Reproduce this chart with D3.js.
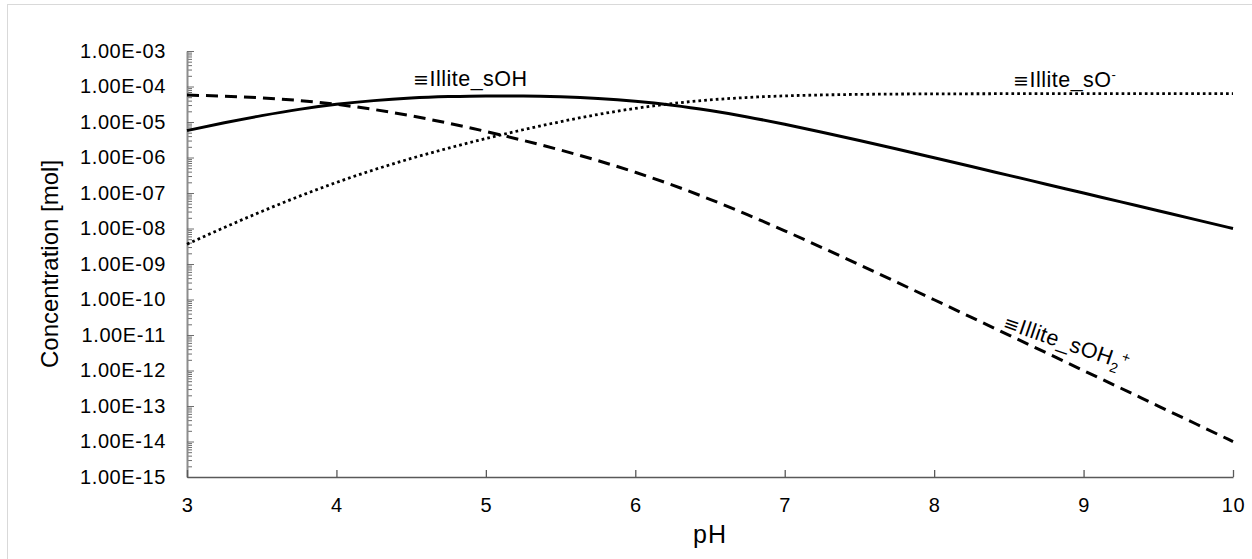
<!DOCTYPE html>
<html>
<head>
<meta charset="utf-8">
<script src="https://cdn.jsdelivr.net/npm/d3@7/dist/d3.min.js"></script>
<style>
  html, body { margin: 0; padding: 0; background: #fff; }
  svg { display: block; font-family: "Liberation Sans", Arial, Helvetica, sans-serif; }
</style>
</head>
<body>
<svg id="chart" width="1252" height="559"></svg>
<script>
// pH grid shared by all three surface species
const pH = [3.00, 3.25, 3.50, 3.75, 4.00, 4.25, 4.50, 4.75, 5.00, 5.25, 5.50, 5.75, 6.00, 6.25, 6.50,
            6.75, 7.00, 7.25, 7.50, 7.75, 8.00, 8.25, 8.50, 8.75, 9.00, 9.25, 9.50, 9.75, 10.00];

// ≡Illite_sOH (neutral site), mol
const sOH = [5.73e-6, 9.51e-6, 1.51e-5, 2.27e-5, 3.14e-5, 4.00e-5, 4.72e-5, 5.19e-5, 5.42e-5, 5.39e-5,
             5.12e-5, 4.59e-5, 3.84e-5, 2.96e-5, 2.10e-5, 1.39e-5, 8.62e-6, 5.16e-6, 3.01e-6, 1.73e-6,
             9.83e-7, 5.57e-7, 3.14e-7, 1.77e-7, 9.97e-8, 5.61e-8, 3.16e-8, 1.78e-8, 9.98e-9];

// ≡Illite_sOH2+ (protonated site), mol
const sOH2 = [5.73e-5, 5.35e-5, 4.78e-5, 4.03e-5, 3.14e-5, 2.25e-5, 1.49e-5, 9.23e-6, 5.42e-6, 3.03e-6,
              1.62e-6, 8.16e-7, 3.84e-7, 1.67e-7, 6.64e-8, 2.46e-8, 8.62e-9, 2.90e-9, 9.51e-10, 3.07e-10,
              9.83e-11, 3.13e-11, 9.94e-12, 3.15e-12, 9.97e-13, 3.16e-13, 9.98e-14, 3.16e-14, 9.98e-15];

// ≡Illite_sO- (deprotonated site), mol
const sO = [3.61e-9, 1.07e-8, 3.02e-8, 8.04e-8, 1.98e-7, 4.49e-7, 9.41e-7, 1.84e-6, 3.42e-6, 6.05e-6,
            1.02e-5, 1.63e-5, 2.42e-5, 3.32e-5, 4.19e-5, 4.91e-5, 5.44e-5, 5.78e-5, 6.00e-5, 6.13e-5,
            6.20e-5, 6.24e-5, 6.27e-5, 6.28e-5, 6.29e-5, 6.29e-5, 6.30e-5, 6.30e-5, 6.30e-5];

// axis ticks
const xTicks = [3, 4, 5, 6, 7, 8, 9, 10];
const yMajor = [1e-15, 1e-14, 1e-13, 1e-12, 1e-11, 1e-10, 1e-9, 1e-8, 1e-7, 1e-6, 1e-5, 1e-4, 1e-3];
const yTickLabels = ["1.00E-15", "1.00E-14", "1.00E-13", "1.00E-12", "1.00E-11", "1.00E-10", "1.00E-09",
                     "1.00E-08", "1.00E-07", "1.00E-06", "1.00E-05", "1.00E-04", "1.00E-03"];

const svg = d3.select("#chart");

// light outer frame
svg.append("rect")
  .attr("x", 7.5).attr("y", 4.5).attr("width", 1400).attr("height", 700)
  .attr("fill", "none").attr("stroke", "#d9d9d9").attr("stroke-width", 1);

const x = d3.scaleLinear().domain([3, 10]).range([187, 1233]);
const y = d3.scaleLog().domain([1e-15, 1e-3]).range([477, 51]);

// minor log ticks, pointing into the plot
const yMinor = [];
for (let e = -15; e < -3; e++) {
  for (let k = 2; k <= 9; k++) yMinor.push(k * Math.pow(10, e));
}

const gMinor = svg.append("g").attr("transform", `translate(${x(3)},0)`)
  .call(d3.axisLeft(y).tickValues(yMinor).tickSizeInner(-5).tickSizeOuter(0).tickFormat(""));
gMinor.select(".domain").remove();
gMinor.selectAll("line").attr("stroke", "#6e6e6e").attr("stroke-width", 1);

const gy = svg.append("g").attr("transform", `translate(${x(3)},0)`)
  .call(d3.axisLeft(y).tickValues(yMajor).tickSizeInner(-7).tickSizeOuter(0).tickPadding(21)
    .tickFormat((d, i) => yTickLabels[i]));
gy.select(".domain").attr("stroke", "#8c8c8c").attr("stroke-width", 2);
gy.selectAll("line").attr("stroke", "#6e6e6e").attr("stroke-width", 1);
gy.selectAll("text").attr("fill", "#000").style("font-size", "20px").attr("letter-spacing", "0.6px");

const gx = svg.append("g").attr("transform", `translate(0,${y(1e-15)})`)
  .call(d3.axisBottom(x).tickValues(xTicks).tickSizeInner(-7).tickSizeOuter(0).tickPadding(21)
    .tickFormat(d3.format("d")));
gx.select(".domain").attr("stroke", "#595959").attr("stroke-width", 1.3);
gx.selectAll("line").attr("stroke", "#595959").attr("stroke-width", 1.3);
gx.selectAll("text").attr("fill", "#000").style("font-size", "20px").attr("letter-spacing", "0.6px");

// axis titles
svg.append("text")
  .attr("x", (x(3) + x(10)) / 2).attr("y", 543)
  .attr("text-anchor", "middle").style("font-size", "25px").attr("letter-spacing", "1px").text("pH");

svg.append("text")
  .attr("transform", `translate(58,${(y(1e-15) + y(1e-3)) / 2}) rotate(-90)`)
  .attr("text-anchor", "middle").style("font-size", "24px").text("Concentration [mol]");

// species curves
const line = (vals) => d3.line()
  .x((d, i) => x(pH[i]))
  .y(d => y(d))
  .curve(d3.curveMonotoneX)(vals);

svg.append("path").attr("d", line(sOH2))
  .attr("fill", "none").attr("stroke", "#000").attr("stroke-width", 3)
  .attr("stroke-dasharray", "12 7");

svg.append("path").attr("d", line(sO))
  .attr("fill", "none").attr("stroke", "#000").attr("stroke-width", 2.8)
  .attr("stroke-dasharray", "2.7 3.1");

svg.append("path").attr("d", line(sOH))
  .attr("fill", "none").attr("stroke", "#000").attr("stroke-width", 3);

// species labels
const labelFont = "21.5px";
const eq = (sel) => sel.append("tspan")
  .style("font-family", "'DejaVu Sans', sans-serif").style("font-size", "19px").text("≡");

const lab1 = svg.append("text").attr("x", 413).attr("y", 86)
  .style("font-size", labelFont).attr("letter-spacing", "0.5px");
eq(lab1);
lab1.append("tspan").text("Illite_sOH");

const lab2 = svg.append("text").attr("x", 1013).attr("y", 87)
  .style("font-size", labelFont).attr("letter-spacing", "0.5px");
eq(lab2);
lab2.append("tspan").text("Illite_sO");
lab2.append("tspan").attr("dy", -8).style("font-size", "13px").text("-");

const lab3 = svg.append("text")
  .attr("transform", "translate(1002,328) rotate(19)")
  .style("font-size", labelFont).attr("letter-spacing", "0.5px");
eq(lab3);
lab3.append("tspan").text("Illite_sOH");
lab3.append("tspan").attr("dy", 6).style("font-size", "14px").text("2");
lab3.append("tspan").attr("dy", -14).style("font-size", "14px").text("+");
</script>
</body>
</html>
